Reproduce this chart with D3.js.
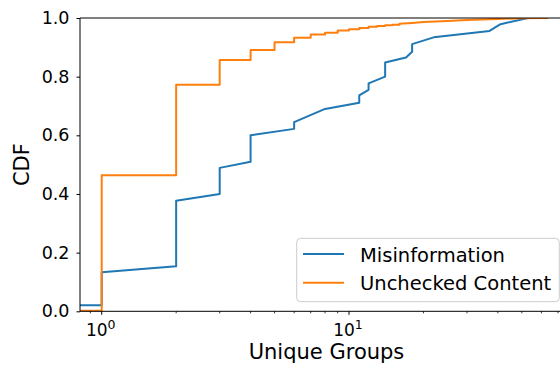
<!DOCTYPE html>
<html>
<head>
<meta charset="utf-8">
<script src="https://cdn.jsdelivr.net/npm/d3@7"></script>
<style>
  body { margin: 0; background: #fff; }
  text { font-family: "DejaVu Sans", sans-serif; fill: #000; }
</style>
</head>
<body>
<div id="chart"></div>
<script>
// data (x = unique groups, y = CDF)
var seriesNames = ["Misinformation", "Unchecked Content"];
var seriesColors = ["#1f77b4", "#ff7f0e"];

var misinfoX = [0, 1, 1, 2, 2, 3, 3, 4, 4, 6, 6, 8, 11, 11, 12, 12, 14, 14, 17, 18, 18, 22, 37, 41, 53];
var misinfoY = [0.020, 0.021, 0.133, 0.154, 0.377, 0.400, 0.489, 0.510, 0.600, 0.622, 0.645, 0.690, 0.711, 0.736,
                0.755, 0.777, 0.800, 0.848, 0.865, 0.885, 0.911, 0.934, 0.956, 0.979, 1.0];

var uncheckedX = [0, 1, 1, 2, 2, 3, 3, 4, 4, 5, 5, 6, 6, 7, 7, 8, 8, 9, 9, 10, 10, 11, 11, 12, 12,
                  13, 13, 14, 14, 15, 15, 16, 16, 18, 20, 25, 30, 40, 50, 64];
var uncheckedY = [0.002, 0.002, 0.464, 0.464, 0.772, 0.772, 0.857, 0.857, 0.891, 0.891, 0.917, 0.917, 0.933,
                  0.933, 0.944, 0.944, 0.950, 0.950, 0.957, 0.957, 0.962, 0.962, 0.966, 0.966, 0.970, 0.970,
                  0.973, 0.973, 0.975, 0.975, 0.977, 0.977, 0.980, 0.983, 0.986, 0.990, 0.993, 0.997, 0.999, 1.0];

var yTicks = [0, 0.2, 0.4, 0.6, 0.8, 1.0];
var xMajorTicks = [1, 10];
var xMinorTicks = [0.9, 2, 3, 4, 5, 6, 7, 8, 9, 20, 30, 40, 50, 60, 70, 80];
var xLimits = [0.817, 80.5];

var svgWidth = 560;
var svgHeight = 369;
var margin = { top: 18, right: -13, bottom: 57.7, left: 80 };
var width = svgWidth - margin.left - margin.right;
var height = svgHeight - margin.top - margin.bottom;

var svg = d3.select("#chart")
    .append("svg")
    .attr("width", svgWidth)
    .attr("height", svgHeight);

var chartGroup = svg.append("g")
    .attr("transform", `translate(${margin.left},${margin.top})`);

var xLogScale = d3.scaleLog().domain(xLimits).range([0, width]);
var yLinearScale = d3.scaleLinear().domain([0, 1]).range([height, 0]);

// zero values get clipped far to the left, like matplotlib does
function xPos(v) {
    return xLogScale(Math.max(v, 1e-3));
}

chartGroup.append("clipPath")
    .attr("id", "plotClip")
    .append("rect")
    .attr("width", width)
    .attr("height", height);

var series = [
    d3.zip(misinfoX, misinfoY),
    d3.zip(uncheckedX, uncheckedY)
];

var line = d3.line()
    .x(d => xPos(d[0]))
    .y(d => yLinearScale(d[1]));

chartGroup.append("g")
    .attr("clip-path", "url(#plotClip)")
    .selectAll("path")
    .data(series)
    .enter()
    .append("path")
    .attr("d", line)
    .attr("fill", "none")
    .attr("stroke", (d, i) => seriesColors[i])
    .attr("stroke-width", 2)
    .attr("stroke-linejoin", "round");

// spines
chartGroup.append("line")
    .attr("x1", 0).attr("x2", 0).attr("y1", 0).attr("y2", height)
    .attr("stroke", "#000").attr("stroke-width", 1);
chartGroup.append("line")
    .attr("x1", 0).attr("x2", width).attr("y1", height).attr("y2", height)
    .attr("stroke", "#000").attr("stroke-width", 1);
chartGroup.append("line")
    .attr("x1", 0).attr("x2", width).attr("y1", 0).attr("y2", 0)
    .attr("stroke", "#000").attr("stroke-width", 1);

// y axis
var leftAxis = d3.axisLeft(yLinearScale)
    .tickValues(yTicks)
    .tickFormat(d3.format(".1f"))
    .tickSize(3.5)
    .tickPadding(7);

var yAxisGroup = chartGroup.append("g").call(leftAxis);
yAxisGroup.select(".domain").remove();
yAxisGroup.selectAll("text")
    .style("font-size", "17.5px")
    .attr("font-family", null);
yAxisGroup.selectAll("line").attr("stroke", "#000");

// x axis: minor ticks, then major ticks with 10^n labels
chartGroup.append("g")
    .selectAll("line")
    .data(xMinorTicks)
    .enter()
    .append("line")
    .attr("x1", d => xLogScale(d))
    .attr("x2", d => xLogScale(d))
    .attr("y1", height)
    .attr("y2", height + 2)
    .attr("stroke", "#000")
    .attr("stroke-width", 0.8);

var majorGroup = chartGroup.append("g")
    .selectAll("g")
    .data(xMajorTicks)
    .enter()
    .append("g")
    .attr("transform", d => `translate(${xLogScale(d)},${height})`);

majorGroup.append("line")
    .attr("y2", 3.5)
    .attr("stroke", "#000")
    .attr("stroke-width", 1);

var majorLabel = majorGroup.append("text")
    .attr("y", 24.5)
    .attr("x", -1)
    .style("text-anchor", "middle")
    .style("font-size", "17px");
majorLabel.append("tspan").text("10");
majorLabel.append("tspan")
    .attr("dy", -6.5)
    .style("font-size", "12.5px")
    .text(d => Math.round(Math.log10(d)));

// axis labels
chartGroup.append("text")
    .attr("transform", "rotate(-90)")
    .attr("x", -height / 2)
    .attr("y", 29 - margin.left)
    .style("text-anchor", "middle")
    .style("font-size", "21px")
    .text("CDF");

chartGroup.append("text")
    .attr("transform", `translate(${width / 2}, ${height + 48})`)
    .style("text-anchor", "middle")
    .style("font-size", "21px")
    .text("Unique Groups");

// legend
var legend = svg.append("g")
    .attr("transform", "translate(296.7,238.3)");

legend.append("rect")
    .attr("width", 262.6)
    .attr("height", 63.4)
    .attr("rx", 4)
    .attr("fill", "#fff")
    .attr("fill-opacity", 0.8)
    .attr("stroke", "#cccccc")
    .attr("stroke-width", 1);

var legendItems = legend.selectAll(".item")
    .data(seriesNames)
    .enter()
    .append("g")
    .attr("class", "item")
    .attr("transform", (d, i) => `translate(0,${15.7 + i * 28.7})`);

legendItems.append("line")
    .attr("x1", 6.3)
    .attr("x2", 47.3)
    .attr("stroke", (d, i) => seriesColors[i])
    .attr("stroke-width", 2);

legendItems.append("text")
    .attr("x", 63.3)
    .attr("y", 7.5)
    .style("font-size", "19.5px")
    .text(d => d);
</script>
</body>
</html>
